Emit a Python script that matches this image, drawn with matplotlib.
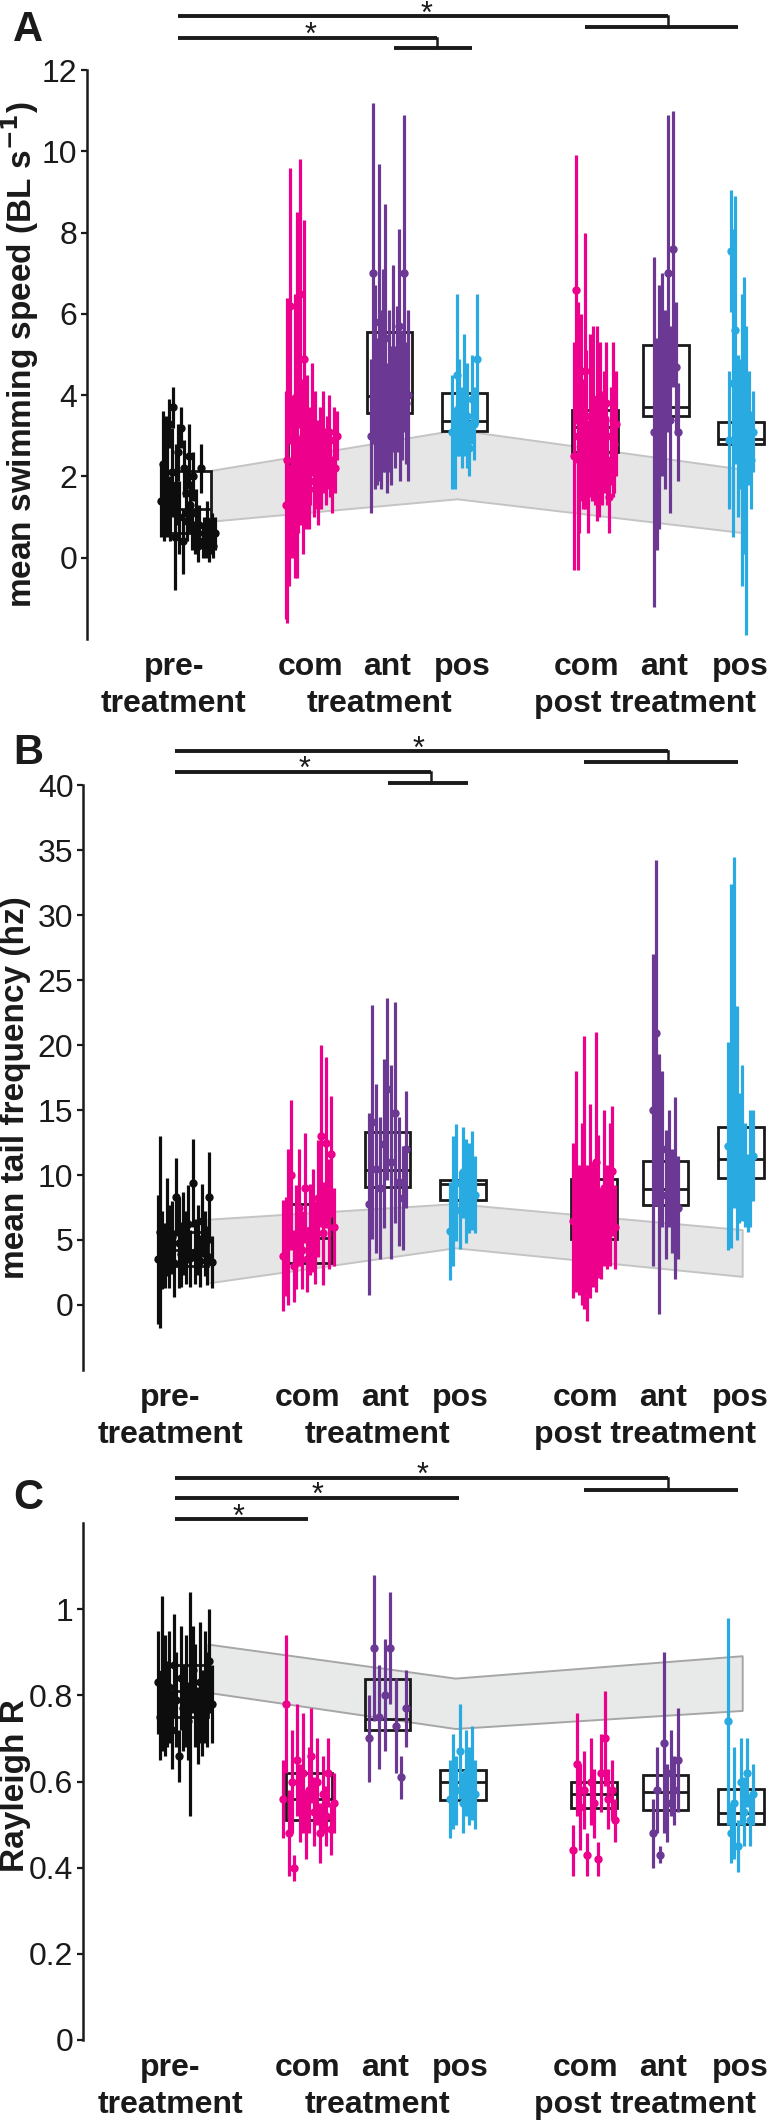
import numpy as np
import matplotlib.pyplot as plt

plt.rcParams['font.family'] = ['Liberation Sans', 'DejaVu Sans']

# groups: pre, com, ant, pos (treatment), com, ant, pos (post treatment)
colors = ['#0d0d0d', '#ec008c', '#6b3994', '#29abe2', '#ec008c', '#6b3994', '#29abe2']
xpos = np.array([0, 1.65, 2.7, 3.7, 5.45, 6.4, 7.4])
spread = [0.72, 0.68, 0.5, 0.33, 0.56, 0.33, 0.33]
band_x = [0.31, 3.6, 7.42]

# ---- A: mean swimming speed (BL s-1), per fish mean and sd ----
speed_pre = [1.4, 2.3, 1.5, 2.9, 1.9, 3.3, 1.2, 2.1, 3.7, 0.5, 1.8, 2.6, 1.0, 3.2, 0.4, 2.2, 1.6, 0.9,
             2.5, 1.3, 0.7, 2.0, 0.5, 1.1, 0.3, 0.8, 2.2, 0.4, 0.6, 0.3, 0.9, 0.2, 0.5, 0.7, 0.3, 0.6]
speed_pre_sd = [0.9, 1.3, 1.1, 0.6, 1.4, 0.6, 0.8, 1.1, 0.5, 1.3, 1.0, 0.7, 0.9, 0.5, 0.8, 0.7, 0.6, 0.5,
                0.8, 0.6, 0.5, 0.6, 0.4, 0.6, 0.4, 0.5, 0.6, 0.4, 0.4, 0.3, 0.5, 0.3, 0.4, 0.4, 0.3, 0.4]
speed_com = [1.3, 2.4, 0.8, 6.2, 2.0, 1.5, 3.0, 4.0, 1.8, 6.5, 2.6, 1.2, 4.9, 2.2, 2.9, 1.7, 2.5,
             3.4, 1.9, 2.8, 2.3, 1.6, 2.7, 2.1, 3.0, 2.4, 2.0, 2.6, 3.1, 2.3, 1.8, 2.9, 2.2, 3.0]
speed_com_sd = [2.8, 4.0, 1.5, 3.4, 2.0, 1.3, 3.5, 4.5, 1.2, 3.3, 1.8, 1.1, 3.4, 1.5, 1.6, 1.0, 1.2,
                1.4, 0.9, 1.3, 1.1, 0.8, 1.0, 0.9, 1.1, 0.8, 0.7, 0.9, 0.9, 0.8, 0.7, 0.8, 0.6, 0.6]
speed_ant = [3.0, 7.0, 4.2, 3.6, 5.8, 3.9, 4.6, 5.4, 3.2, 4.1, 3.5, 4.9, 3.7, 4.4, 5.7, 3.3, 4.0, 7.0, 3.8, 4.0]
speed_ant_sd = [1.9, 4.2, 2.5, 1.8, 3.9, 2.2, 2.5, 3.3, 1.6, 2.0, 1.7, 2.3, 1.5, 1.8, 2.4, 1.4, 1.6, 3.9, 1.5, 2.1]
speed_pos = [3.1, 2.7, 4.5, 3.7, 3.2, 4.0, 3.5, 2.7, 3.9, 3.3, 4.9]
speed_pos_sd = [1.4, 1.0, 2.0, 1.2, 1.0, 1.5, 1.3, 0.7, 1.1, 0.9, 1.6]
speed_pcom = [2.5, 6.6, 3.0, 2.4, 3.7, 2.8, 4.6, 3.2, 2.0, 3.5, 2.9, 3.9, 2.6, 3.3, 2.2, 3.6, 2.7,
              3.1, 3.8, 2.4, 1.5, 3.0, 3.4, 2.8, 3.3]
speed_pcom_sd = [2.8, 3.3, 3.3, 1.8, 2.3, 1.6, 3.4, 1.9, 1.4, 2.0, 1.5, 1.8, 1.3, 2.4, 1.2, 1.7, 1.4,
                 1.5, 1.5, 1.1, 0.9, 1.2, 1.9, 1.2, 1.3]
speed_pant = [3.1, 2.8, 3.7, 4.5, 3.9, 7.0, 3.4, 7.6, 4.7, 3.1]
speed_pant_sd = [4.3, 2.6, 3.0, 2.5, 2.2, 3.9, 2.3, 3.4, 1.6, 1.2]
speed_ppos = [2.9, 7.55, 4.3, 5.6, 3.0, 3.3, 2.9, 3.5, 1.9, 3.2, 2.4, 3.1]
speed_ppos_sd = [1.7, 1.5, 3.8, 3.3, 2.0, 1.6, 3.6, 3.4, 3.8, 1.4, 1.2, 1.0]
speed_q1 = [0.6, 1.92, 3.56, 3.11, 2.6, 3.5, 2.79]
speed_med = [1.19, 2.3, 3.97, 3.36, 3.22, 3.72, 2.93]
speed_q3 = [2.14, 2.85, 5.55, 4.05, 3.64, 5.23, 3.34]
speed_band_hi = [2.15, 3.15, 2.18]
speed_band_lo = [0.9, 1.45, 0.62]

# ---- B: mean tail frequency (hz) ----
tail_pre = [3.5, 5.6, 4.2, 3.8, 6.0, 4.5, 5.2, 3.2, 8.3, 4.8, 3.9, 5.5, 4.4, 6.2, 3.6, 9.4, 4.1, 5.0,
            3.4, 6.5, 4.7, 3.8, 8.3, 3.3]
tail_pre_sd = [5.0, 7.4, 3.0, 2.5, 3.8, 3.2, 2.8, 2.6, 3.0, 3.5, 2.5, 3.2, 2.8, 3.0, 2.2, 3.4, 2.5, 2.7,
               2.0, 2.8, 2.5, 2.3, 3.5, 2.0]
tail_com = [3.8, 4.5, 6.0, 10.0, 3.0, 5.2, 7.5, 4.2, 9.0, 3.5, 5.8, 6.5, 4.8, 8.2, 13.0, 5.5, 12.5, 7.0, 11.6, 6.0]
tail_com_sd = [4.3, 3.8, 6.0, 5.8, 2.8, 4.0, 4.5, 3.0, 4.2, 2.5, 3.5, 4.0, 3.2, 4.5, 7.0, 4.0, 6.6, 4.2, 4.5, 3.0]
tail_ant = [7.8, 14.1, 10.5, 9.0, 12.4, 16.6, 11.0, 14.8, 9.5, 8.2, 12.0]
tail_ant_sd = [7.0, 9.0, 6.5, 5.5, 6.5, 7.0, 7.5, 8.5, 5.0, 4.0, 4.5]
tail_pos = [5.7, 8.0, 9.4, 7.3, 10.2, 8.8, 9.0, 9.6, 8.5]
tail_pos_sd = [3.8, 5.0, 4.5, 3.0, 3.5, 4.0, 3.5, 3.8, 3.0]
tail_pcom = [6.5, 9.5, 5.8, 7.0, 10.2, 4.8, 8.0, 6.2, 11.0, 7.6, 5.5, 9.0, 6.8, 8.5, 10.3, 6.0]
tail_pcom_sd = [6.0, 8.5, 5.0, 7.0, 10.5, 6.0, 7.5, 4.8, 10.0, 5.5, 3.5, 6.0, 4.0, 5.5, 5.0, 3.2]
tail_pant = [15.0, 20.9, 9.3, 12.0, 8.5, 10.5, 8.0, 9.0, 7.5]
tail_pant_sd = [12.0, 13.3, 10.0, 6.0, 5.0, 4.5, 4.0, 7.0, 4.0]
tail_ppos = [12.2, 18.4, 21.0, 14.0, 11.3, 12.5, 10.0, 8.6, 10.5, 11.5]
tail_ppos_sd = [8.0, 14.0, 13.5, 9.0, 5.0, 6.0, 4.0, 3.0, 4.5, 3.5]
tail_q1 = [3.0, 3.26, 9.1, 8.1, 5.1, 7.7, 9.8]
tail_med = [4.2, 5.15, 10.4, 9.3, 7.8, 8.9, 11.2]
tail_q3 = [5.6, 7.8, 13.3, 9.6, 9.7, 11.1, 13.7]
tail_band_hi = [6.6, 7.8, 5.8]
tail_band_lo = [1.7, 4.4, 2.2]

# ---- C: Rayleigh R ----
ray_pre = [0.83, 0.75, 0.85, 0.80, 0.78, 0.82, 0.72, 0.87, 0.79, 0.66, 0.84, 0.77, 0.81, 0.74, 0.78,
           0.86, 0.80, 0.73, 0.83, 0.76, 0.82, 0.79, 0.88, 0.78]
ray_pre_sd = [0.12, 0.10, 0.18, 0.14, 0.10, 0.13, 0.09, 0.12, 0.11, 0.06, 0.12, 0.10, 0.13, 0.09, 0.26,
              0.10, 0.12, 0.09, 0.14, 0.10, 0.13, 0.11, 0.12, 0.09]
ray_com = [0.56, 0.78, 0.48, 0.60, 0.40, 0.65, 0.55, 0.62, 0.50, 0.58, 0.66, 0.53, 0.60, 0.48, 0.57,
           0.52, 0.62, 0.49, 0.55]
ray_com_sd = [0.09, 0.16, 0.10, 0.12, 0.03, 0.13, 0.09, 0.14, 0.08, 0.10, 0.11, 0.08, 0.10, 0.07, 0.09,
              0.07, 0.08, 0.06, 0.07]
ray_ant = [0.70, 0.91, 0.75, 0.80, 0.91, 0.73, 0.61, 0.77]
ray_ant_sd = [0.10, 0.17, 0.12, 0.13, 0.13, 0.11, 0.05, 0.09]
ray_pos = [0.56, 0.60, 0.58, 0.67, 0.55, 0.62, 0.59, 0.62, 0.57]
ray_pos_sd = [0.09, 0.11, 0.08, 0.11, 0.07, 0.10, 0.09, 0.11, 0.08]
ray_pcom = [0.44, 0.64, 0.54, 0.58, 0.43, 0.60, 0.55, 0.42, 0.62, 0.70, 0.56, 0.58, 0.51]
ray_pcom_sd = [0.06, 0.12, 0.10, 0.09, 0.05, 0.10, 0.08, 0.04, 0.09, 0.11, 0.07, 0.07, 0.05]
ray_pant = [0.48, 0.58, 0.43, 0.69, 0.55, 0.62, 0.58, 0.65]
ray_pant_sd = [0.08, 0.10, 0.02, 0.21, 0.09, 0.10, 0.08, 0.12]
ray_ppos = [0.74, 0.48, 0.55, 0.45, 0.60, 0.53, 0.62, 0.51, 0.57]
ray_ppos_sd = [0.24, 0.07, 0.13, 0.06, 0.10, 0.08, 0.08, 0.06, 0.07]
ray_q1 = [0.75, 0.51, 0.719, 0.556, 0.539, 0.533, 0.501]
ray_med = [0.81, 0.56, 0.746, 0.599, 0.570, 0.576, 0.528]
ray_q3 = [0.87, 0.62, 0.839, 0.626, 0.599, 0.615, 0.583]
ray_band_hi = [0.919, 0.84, 0.892]
ray_band_lo = [0.807, 0.723, 0.765]

# significance brackets: (end x, y, star x, bracket y, bracket x0, bracket x1)
sig_left = -0.13
sig_a = [(6.43, 13.32, 3.19, 13.06, 5.31, 7.36), (3.33, 12.80, 1.64, 12.54, 2.76, 3.80)]
sig_b = [(6.43, 42.6, 3.11, 41.8, 5.31, 7.36), (3.28, 41.0, 1.60, 40.15, 2.71, 3.77)]
sig_c = [(6.43, 1.305, 3.17, 1.277, 5.31, 7.36), (3.65, 1.258, 1.77, None, None, None),
         (1.64, 1.209, 0.72, None, None, None)]

cat_x = [-0.19, 1.64, 2.67, 3.67, 5.33, 6.37, 7.39]
cat_names = ['pre-', 'com', 'ant', 'pos', 'com', 'ant', 'pos']
sub_x = [-0.19, 2.56, 6.12]
sub_names = ['treatment', 'treatment', 'post treatment']

ink = '#1a1a1a'


def panel(ax, means, sds, q1, med, q3, bhi, blo, ylim, yticks, yticklabels, ylabel, lab_y, sig,
          band_face, band_edge):
    ax.fill_between(band_x, blo, bhi, facecolor=band_face, edgecolor=band_edge, lw=1.4, zorder=1)
    q1 = np.array(q1)
    q3 = np.array(q3)
    ax.bar(xpos, q3 - q1, bottom=q1, width=0.61, fill=False, edgecolor=ink, lw=2.0, zorder=2)
    ax.hlines(med, xpos - 0.305, xpos + 0.305, colors=ink, lw=2.0, zorder=2)
    for i in range(len(means)):
        xs = xpos[i] + np.linspace(-spread[i] / 2, spread[i] / 2, len(means[i]))
        ax.errorbar(xs, means[i], yerr=sds[i], fmt='o', color=colors[i], ms=5,
                    elinewidth=2.3, capsize=0, zorder=3)

    for x_end, y, sx, yb, bx0, bx1 in sig:
        ax.plot([sig_left, x_end], [y, y], color=ink, lw=2.8, clip_on=False, solid_capstyle='butt')
        if yb is not None:
            ax.plot([x_end, x_end], [y, yb], color=ink, lw=1.8, clip_on=False)
            ax.plot([bx0, bx1], [yb, yb], color=ink, lw=2.8, clip_on=False, solid_capstyle='butt')
        ax.annotate('*', xy=(sx, y), xytext=(0, -4.5), textcoords='offset points',
                    ha='center', va='baseline', fontsize=22, color=ink, annotation_clip=False)

    ax.set_xlim(-1.35, 7.79)
    ax.set_ylim(ylim)
    ax.set_yticks(yticks)
    ax.set_yticklabels(yticklabels)
    ax.set_xticks([])
    for s in ['top', 'right', 'bottom']:
        ax.spines[s].set_visible(False)
    ax.spines['left'].set_linewidth(1.8)
    ax.spines['left'].set_color(ink)
    ax.tick_params(axis='y', length=4, width=1.6, pad=3, labelsize=23, colors=ink)
    ax.set_ylabel(ylabel, fontsize=24, fontweight='bold', color=ink, va='center')
    ax.yaxis.set_label_coords(-0.098, lab_y)

    for x, t in zip(cat_x, cat_names):
        ax.annotate(t, xy=(x, 0), xycoords=('data', 'axes fraction'), xytext=(0, -20),
                    textcoords='offset points', ha='center', va='center', fontsize=23,
                    fontweight='bold', color=ink, annotation_clip=False)
    for x, t in zip(sub_x, sub_names):
        ax.annotate(t, xy=(x, 0), xycoords=('data', 'axes fraction'), xytext=(0, -47),
                    textcoords='offset points', ha='center', va='center', fontsize=23,
                    fontweight='bold', color=ink, annotation_clip=False)


fig = plt.figure(figsize=(7.77, 21.23), dpi=100)
ax_a = fig.add_axes([0.112, 0.699, 0.879, 0.268])
ax_b = fig.add_axes([0.107, 0.3547, 0.884, 0.2755])
ax_c = fig.add_axes([0.107, 0.0391, 0.884, 0.2435])

panel(ax_a,
      [speed_pre, speed_com, speed_ant, speed_pos, speed_pcom, speed_pant, speed_ppos],
      [speed_pre_sd, speed_com_sd, speed_ant_sd, speed_pos_sd, speed_pcom_sd, speed_pant_sd, speed_ppos_sd],
      speed_q1, speed_med, speed_q3, speed_band_hi, speed_band_lo, (-2, 12),
      range(0, 13, 2), [str(v) for v in range(0, 13, 2)],
      'mean swimming speed (BL s$^{\\mathbf{-1}}$)', 0.5, sig_a, '#e6e6e6', '#c4c4c4')
panel(ax_b,
      [tail_pre, tail_com, tail_ant, tail_pos, tail_pcom, tail_pant, tail_ppos],
      [tail_pre_sd, tail_com_sd, tail_ant_sd, tail_pos_sd, tail_pcom_sd, tail_pant_sd, tail_ppos_sd],
      tail_q1, tail_med, tail_q3, tail_band_hi, tail_band_lo, (-5, 40),
      range(0, 41, 5), [str(v) for v in range(0, 41, 5)],
      'mean tail frequency (hz)', 0.482, sig_b, '#e6e6e6', '#c4c4c4')
panel(ax_c,
      [ray_pre, ray_com, ray_ant, ray_pos, ray_pcom, ray_pant, ray_ppos],
      [ray_pre_sd, ray_com_sd, ray_ant_sd, ray_pos_sd, ray_pcom_sd, ray_pant_sd, ray_ppos_sd],
      ray_q1, ray_med, ray_q3, ray_band_hi, ray_band_lo, (0, 1.2),
      [0, 0.2, 0.4, 0.6, 0.8, 1.0], ['0', '0.2', '0.4', '0.6', '0.8', '1'],
      'Rayleigh R', 0.493, sig_c, '#e8eae9', '#a6a6a6')

for letter, y in [('A', 0.9859), ('B', 0.6453), ('C', 0.2944)]:
    fig.text(0.036, y, letter, fontsize=30, fontweight='bold', ha='center', va='center', color=ink)

plt.savefig('out.png', dpi=100)
